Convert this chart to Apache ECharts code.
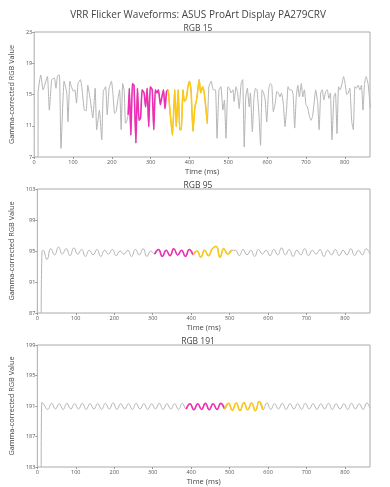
<!DOCTYPE html>
<html>
<head>
<meta charset="utf-8">
<script src="https://cdn.jsdelivr.net/npm/echarts@6/dist/echarts.min.js"></script>
<style>
html,body{margin:0;padding:0;background:#fff;}
#c{width:390px;height:487px;}
</style>
</head>
<body>
<div id="c"></div>
<script>
// ---------- DATA ----------
const mainTitle = 'VRR Flicker Waveforms: ASUS ProArt Display PA279CRV';
const panelTitles = ['RGB 15', 'RGB 95', 'RGB 191'];
const xTicks = [0, 100, 200, 300, 400, 500, 600, 700, 800];
const xMin = 0, xMax = 865;
const yTicks15 = [7, 11, 15, 19, 23];
const yTicks95 = [87, 91, 95, 99, 103];
const yTicks191 = [183, 187, 191, 195, 199];

// [time ms, gamma-corrected value]
const rgb15 = [[10,7],[10,15.2],[17,17.5],[23,15.6],[34,17.3],[39,13.0],[45,16.9],[52,17.1],[56,15.8],[60,17.4],[65,17.5],[69,8.1],[77,16.7],[84,15.2],[87,11.5],[92,16.7],[96,16.0],[101,15.4],[105,15.6],[109,13.9],[113,16.4],[119,16.9],[123,15.8],[129,13.0],[134,12.9],[138,16.2],[144,14.5],[151,12.0],[157,15.8],[161,10.5],[168,13.0],[174,9.2],[178,15.4],[184,16.0],[188,12.4],[193,15.8],[199,16.7],[203,15.0],[207,12.6],[211,12.8],[216,14.5],[220,15.6],[224,10.5],[228,16.4],[232,15.4],[235,11.3],[238,11.5],[242,12.4],
[245,15.8],[249,9.8],[253,16.4],[257,16.2],[262,8.8],[266,15.8],[270,11.7],[274,12.0],[278,15.6],[283,15.2],[287,13.4],[291,15.8],[295,10.9],[299,16.0],[304,15.6],[308,10.5],[312,15.6],[316,15.2],[320,15.6],[325,13.7],[329,14.7],[333,15.6],[337,13.2],[341,15.4],[345,15.6],
[351,12.2],[356,9.8],[362,15.6],[366,10.9],[371,15.6],[375,10.5],[379,10.5],[383,15.6],[387,14.1],[392,14.5],[396,16.0],[400,16.7],[404,15.6],[409,10.3],[414,13.4],[419,14.5],[425,16.9],[429,15.2],[434,16.0],[438,15.2],[442,13.4],[446,11.3],
[450,16.0],[456,16.7],[461,15.6],[467,15.6],[471,9.4],[476,15.6],[481,16.0],[486,13.0],[490,14.3],[494,9.4],[499,16.0],[503,15.8],[507,15.2],[512,15.6],[515,14.1],[520,16.0],[524,15.2],[528,13.2],[533,16.4],[537,16.9],[541,8.3],[545,14.7],[549,15.8],[554,13.4],[557,15.2],[562,10.2],[566,14.5],[570,15.8],[574,15.6],[579,12.4],[583,8.5],[587,15.6],[591,15.2],[595,14.3],[599,11.5],[604,15.6],[608,16.4],[612,16.2],[616,12.8],[621,13.9],[625,15.4],[629,15.2],[633,14.7],[637,15.2],[642,13.7],[646,10.9],[650,13.0],[654,16.0],[658,15.6],[663,15.6],[667,15.0],[671,10.7],[675,14.7],[679,16.2],[683,14.7],[688,16.4],[692,14.7],[696,15.6],[700,13.7],[704,13.4],[709,12.2],[713,11.7],[717,12.2],[721,13.9],[725,15.6],[730,14.1],[734,10.5],[738,15.2],[742,15.6],[746,14.3],[751,15.4],[755,15.6],[759,14.5],[763,15.2],[767,9.2],[772,14.7],[776,15.2],[780,10.0],[784,16.0],[788,15.6],[793,16.4],[797,17.3],[801,16.4],[805,15.0],[809,15.2],[813,15.8],[818,11.5],[822,10.5],[826,16.0],[830,15.8],[834,16.2],[839,15.6],[843,16.2],[847,13.0],[851,16.4],[855,17.3],[860,16.4],[864,14.3],[866,13.2]];

const rgb95 = [[10,87],[12,94.9],[15,95.1],[25,93.9],[35,95.3],[45,94.5],[55,95.5],[65,94.6],[75,95.3],[85,94.4],[95,95.4],[105,94.6],[115,95.2],[125,94.3],[135,95.1],[145,94.5],[155,95.2],[165,94.3],[175,95.1],[185,94.6],[195,95.2],[205,94.4],[215,95.0],[225,94.6],[235,95.1],[245,94.3],[255,95.2],[265,94.5],[275,95.3],[285,94.3],[295,95.0],[305,94.6],[315,95.2],[325,94.3],[335,95.1],[345,94.4],[355,95.3],[365,94.5],[375,95.1],[385,94.3],[395,95.2],[405,94.5],[415,95.0],[425,94.2],[435,95.1],[445,94.4],[455,95.3],[465,95.6],[475,94.2],[485,95.3],[495,94.6],[505,95.1],[515,95.1],[525,94.4],[535,95.2],[545,94.5],[555,95.1],[565,94.3],[575,95.2],[585,94.6],[595,95.1],[605,94.4],[615,95.2],[625,94.5],[635,95.4],[645,94.5],[655,95.2],[665,94.3],[675,95.1],[685,94.5],[695,95.3],[705,94.4],[715,95.1],[725,94.6],[735,95.2],[745,94.3],[755,95.1],[765,94.5],[775,95.2],[785,94.4],[795,95.1],[805,94.5],[815,95.3],[825,94.4],[835,95.1],[845,94.5],[855,95.3],[865,94.6]];

const rgb191 = [[10,183],[12,191.5],[17,191.2],[27,190.55],[37,191.35],[47,190.6],[57,191.3],[67,190.55],[77,191.35],[87,190.6],[97,191.3],[107,190.6],[117,191.35],[127,190.55],[137,191.3],[147,190.6],[157,191.3],[167,190.55],[177,191.35],[187,190.6],[197,191.4],[207,190.55],[217,191.3],[227,190.6],[237,191.3],[247,190.55],[257,191.35],[267,190.6],[277,191.3],[287,190.55],[297,191.3],[307,190.6],[317,191.35],[327,190.55],[337,191.3],[347,190.6],[357,191.3],[367,190.55],[377,191.35],[387,190.6],[397,191.3],[407,190.5],[417,191.3],[427,190.55],[437,191.35],[447,190.5],[457,191.3],[467,190.55],[477,191.35],[487,190.6],[497,191.35],[507,190.45],[517,191.4],[527,190.4],[537,191.45],[547,190.5],[557,191.4],[567,190.4],[577,191.6],[587,190.5],[597,191.4],[607,190.55],[617,191.3],[627,190.6],[637,191.35],[647,190.55],[657,191.3],[667,190.6],[677,191.3],[687,190.55],[697,191.35],[707,190.6],[717,191.3],[727,190.55],[737,191.3],[747,190.6],[757,191.35],[767,190.55],[777,191.3],[787,190.6],[797,191.3],[807,190.55],[817,191.35],[827,190.6],[837,191.3],[847,190.55],[857,191.4],[865,190.7]];

// highlighted windows [start, end] ms : magenta then yellow
const windows15 = [[242, 345], [345, 446]];
const windows95 = [[305, 405], [405, 505]];
const windows191 = [[387, 487], [487, 587]];

// ---------- CHART ----------
const GRAY = '#b4b4b4', MAGENTA = '#ee2fb5', YELLOW = '#fcc916';
const FONT = 'Open Sans';
const panels = [
  {data: rgb15, win: windows15, ticks: yTicks15, top: 32, h: 125, smooth: 0.15},
  {data: rgb95, win: windows95, ticks: yTicks95, top: 189, h: 124, smooth: 0.5},
  {data: rgb191, win: windows191, ticks: yTicks191, top: 345, h: 123, smooth: 0.5}
];
const left = 26, width = 344;

const grids = [], xAxes = [], yAxes = [], series = [], graphics = [];
graphics.push({type:'text', x: 198, y: 15, style:{text: mainTitle, font: '400 10px "Open Sans"', fill:'#444', align:'center', verticalAlign:'middle'}});
panels.forEach((p, i) => {
  grids.push({left: left, top: p.top, width: width, height: p.h, show: true, borderColor: '#aaaaaa', borderWidth: 1, containLabel: false});
  xAxes.push({type:'value', gridIndex:i, min:xMin, max:xMax, interval:100,
    name:'Time (ms)', nameLocation:'middle', nameGap:11,
    nameTextStyle:{fontFamily:FONT, fontSize:7.5, color:'#444'},
    axisLine:{show:false}, splitLine:{show:false},
    axisTick:{show:true, length:2, lineStyle:{color:'#999'}},
    axisLabel:{fontFamily:FONT, fontSize:5.5, color:'#555', margin:2, showMaxLabel:false,
      formatter: v => xTicks.includes(v) ? String(v) : ''}});
  const ymin = p.ticks[0], ymax = p.ticks[p.ticks.length-1];
  yAxes.push({type:'value', gridIndex:i, min:ymin, max:ymax, interval:p.ticks[1]-p.ticks[0],
    name:'Gamma-corrected RGB Value', nameLocation:'middle', nameGap:17,
    nameTextStyle:{fontFamily:FONT, fontSize:7.3, color:'#444'},
    axisLine:{show:false}, splitLine:{show:false},
    axisTick:{show:true, length:2, lineStyle:{color:'#999'}},
    axisLabel:{fontFamily:FONT, fontSize:5.5, color:'#555', margin:2}});
  graphics.push({type:'text', x: 198, y: p.top - 3.5, style:{text: panelTitles[i], font: '400 8.5px "Open Sans"', fill:'#444', align:'center', verticalAlign:'middle'}});
  series.push({type:'line', xAxisIndex:i, yAxisIndex:i, data:p.data, showSymbol:false, smooth:p.smooth,
    lineStyle:{color:GRAY, width:1}, animation:false, z:2});
  [MAGENTA, YELLOW].forEach((col, k) => {
    const w = p.win[k];
    series.push({type:'line', xAxisIndex:i, yAxisIndex:i,
      data: p.data.filter(d => d[0] >= w[0] && d[0] <= w[1]),
      showSymbol:false, smooth:p.smooth, lineStyle:{color:col, width:1.6}, animation:false, z:3});
  });
});

const chart = echarts.init(document.getElementById('c'), null, {renderer:'canvas'});
chart.setOption({
  backgroundColor:'#fff', animation:false,
  grid: grids, xAxis: xAxes, yAxis: yAxes, series: series, graphic: graphics
});
</script>
</body>
</html>
